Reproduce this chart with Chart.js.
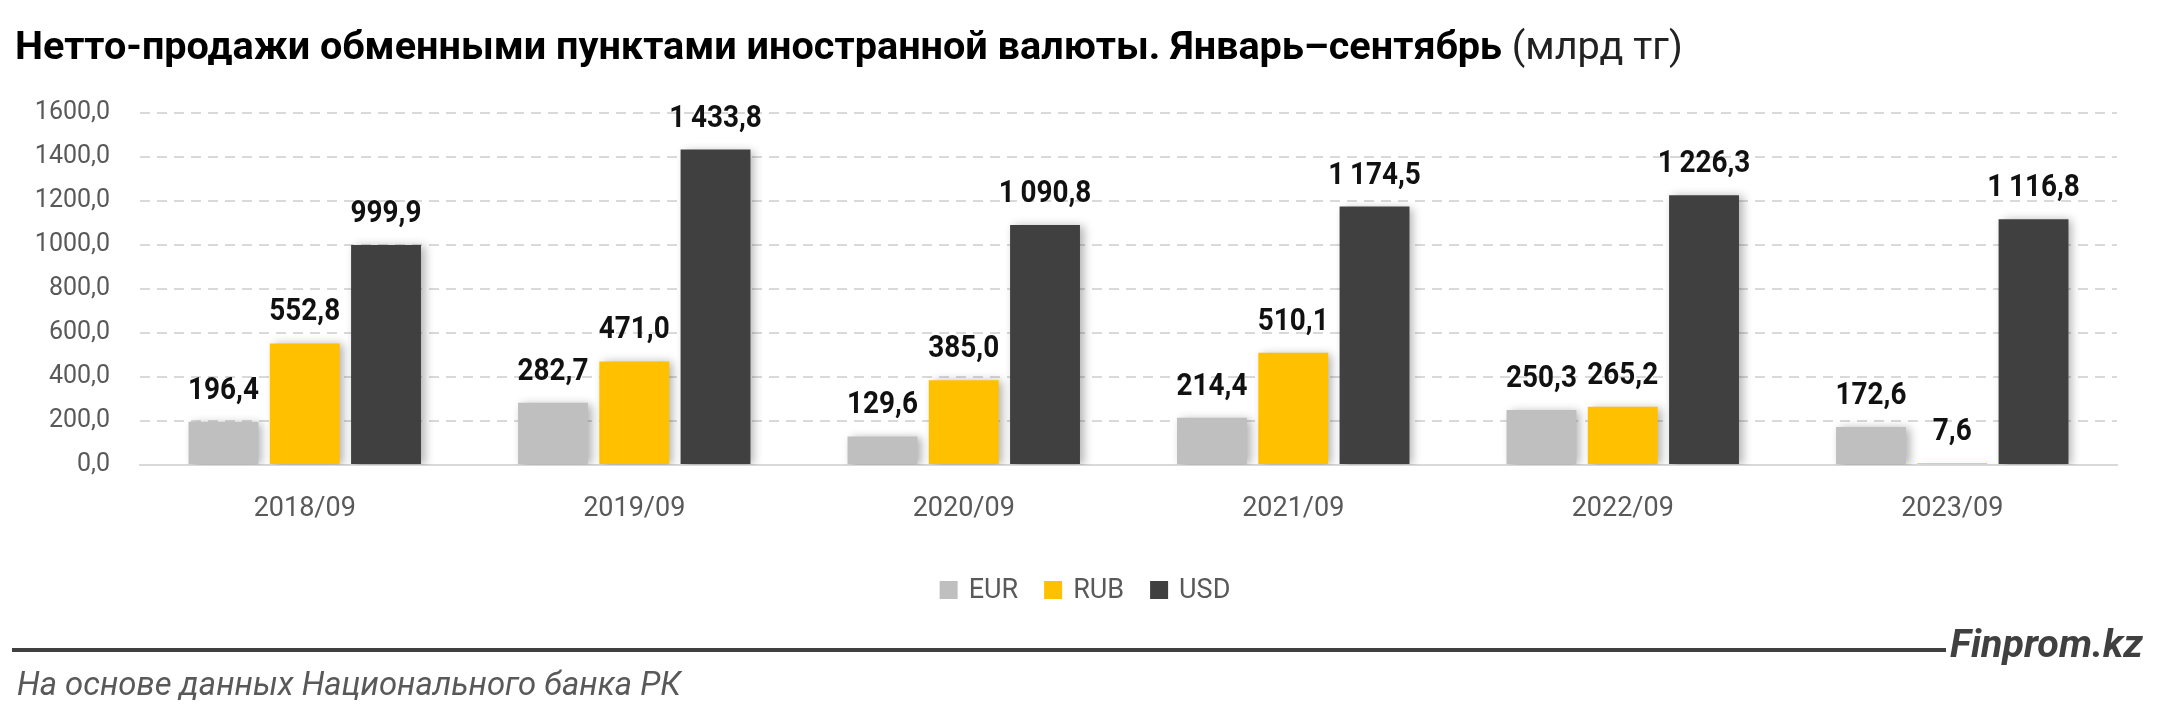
<!DOCTYPE html>
<html>
<head>
<meta charset="utf-8">
<script src="https://cdn.jsdelivr.net/npm/chart.js@4.4.1/dist/chart.umd.min.js"></script>
<style>
  body { margin: 0; background: #fff; }
  #wrap { position: relative; width: 2160px; height: 715px; overflow: hidden; font-family: Roboto, "Noto Sans", sans-serif; }
  #chart { position: absolute; left: 0; top: 0; }
  .txt { position: absolute; white-space: nowrap; line-height: 1; }
  #title { left: 15px; top: 26px; color: #000; font-size: 34px; }
  #title b { font-weight: 700; }
  #title span { font-weight: 400; color: #222; }
  #source { left: 17px; top: 668px; color: #595959; font-style: italic; font-size: 28px; }
  #brand { left: 1950px; top: 624px; color: #404040; font-style: italic; font-weight: 700; font-size: 34px; }
  #rule { position: absolute; left: 12px; top: 648px; width: 1934px; height: 4px; background: #404040; }
</style>
</head>
<body>
<div id="wrap">
  <canvas id="chart" width="2160" height="715"></canvas>
  <div id="title" class="txt"><b>Нетто-продажи обменными пунктами иностранной валюты. Январь–сентябрь</b> <span>(млрд тг)</span></div>
  <div id="rule"></div>
  <div id="brand" class="txt">Finprom.kz</div>
  <div id="source" class="txt">На основе данных Национального банка РК</div>
</div>
<script>
// data
const categories = ["2018/09", "2019/09", "2020/09", "2021/09", "2022/09", "2023/09"];
const seriesNames = ["EUR", "RUB", "USD"];
const eurValues = [196.4, 282.7, 129.6, 214.4, 250.3, 172.6];
const rubValues = [552.8, 471.0, 385.0, 510.1, 265.2, 7.6];
const usdValues = [999.9, 1433.8, 1090.8, 1174.5, 1226.3, 1116.8];
const seriesColors = ["#BFBFBF", "#FFC000", "#404040"];

// stretch a text block so it spans the same width as in the picture
function fitWidth(id, target) {
  const el = document.getElementById(id);
  const size = parseFloat(getComputedStyle(el).fontSize);
  const w = el.getBoundingClientRect().width;
  el.style.fontSize = (size * target / w) + "px";
}
fitWidth("title", 1668);
fitWidth("source", 664);
fitWidth("brand", 193);

function fmt(v) {
  let parts = v.toFixed(1).split(".");
  let int = parts[0].replace(/\B(?=(\d{3})+(?!\d))/g, "\u2009");
  return int + "," + parts[1];
}

const FONT = "Roboto, 'Noto Sans', sans-serif";

const barDecor = {
  id: "barDecor",
  beforeDatasetsDraw(chart) {
    const ctx = chart.ctx;
    ctx.save();
    ctx.shadowColor = "rgba(0,0,0,0.30)";
    ctx.shadowBlur = 9;
    ctx.shadowOffsetX = 4;
    ctx.shadowOffsetY = 1;
  },
  afterDatasetsDraw(chart) {
    const ctx = chart.ctx;
    ctx.restore();
    // value labels, squeezed a bit like the narrow original font
    ctx.save();
    ctx.font = "bold 31px " + FONT;
    ctx.fillStyle = "#111";
    ctx.textAlign = "center";
    ctx.textBaseline = "alphabetic";
    chart.data.datasets.forEach((ds, i) => {
      chart.getDatasetMeta(i).data.forEach((bar, j) => {
        ctx.save();
        ctx.translate(bar.x, bar.y - 23);
        ctx.scale(0.9, 1);
        ctx.fillText(fmt(ds.data[j]), 0, 0);
        ctx.restore();
      });
    });
    ctx.restore();
  },
  afterDraw(chart) {
    // legend under the axis
    const ctx = chart.ctx;
    ctx.save();
    ctx.font = "27px " + FONT;
    ctx.textBaseline = "middle";
    const box = 18, gapText = 11, gapItem = 26, cy = 590;
    const items = chart.data.datasets.map(ds => ({ label: ds.label, color: ds.backgroundColor, w: ctx.measureText(ds.label).width }));
    let total = items.reduce((s, it) => s + box + gapText + it.w, 0) + gapItem * (items.length - 1);
    let x = 1085 - total / 2;
    items.forEach(it => {
      ctx.fillStyle = it.color;
      ctx.fillRect(x, cy - box / 2, box, box);
      x += box + gapText;
      ctx.fillStyle = "#595959";
      ctx.fillText(it.label, x, cy + 1);
      x += it.w + gapItem;
    });
    ctx.restore();
  }
};

new Chart(document.getElementById("chart"), {
  type: "bar",
  data: {
    labels: categories,
    datasets: [
      { label: seriesNames[0], data: eurValues, backgroundColor: seriesColors[0] },
      { label: seriesNames[1], data: rubValues, backgroundColor: seriesColors[1] },
      { label: seriesNames[2], data: usdValues, backgroundColor: seriesColors[2] }
    ]
  },
  options: {
    responsive: false,
    animation: false,
    devicePixelRatio: 1,
    datasets: { bar: { categoryPercentage: 0.74, barPercentage: 0.86 } },
    layout: { padding: { left: 0, top: 113, right: 43, bottom: 170 } },
    plugins: { legend: { display: false }, tooltip: { enabled: false }, title: { display: false } },
    scales: {
      x: {
        grid: { display: false, drawTicks: false },
        border: { display: true, color: "#D9D9D9", width: 2 },
        ticks: { color: "#595959", font: { family: FONT, size: 27 }, padding: 28 },
        afterFit(scale) { scale.height = 80; }
      },
      y: {
        min: 0, max: 1600,
        grid: { color: "#D9D9D9", lineWidth: 2, drawTicks: false },
        border: { display: false, dash: [10, 7] },
        ticks: { stepSize: 200, color: "#595959", font: { family: FONT, size: 25 }, padding: 30,
                 callback: v => v.toFixed(1).replace(".", ",") },
        afterFit(scale) { scale.width = 140; }
      }
    }
  },
  plugins: [barDecor]
});
</script>
</body>
</html>
